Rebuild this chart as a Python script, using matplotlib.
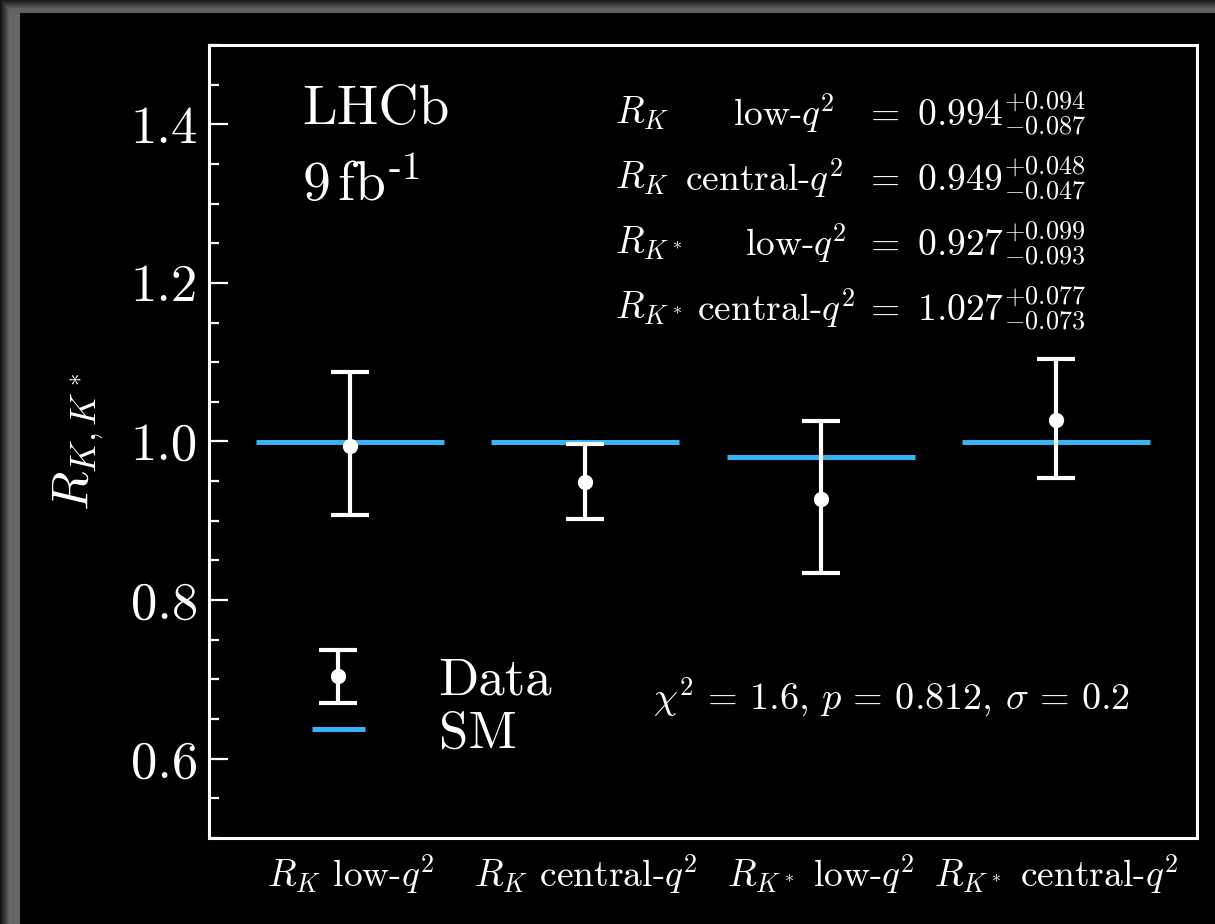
import numpy as np
import matplotlib
matplotlib.use("Agg")
import matplotlib.pyplot as plt
from matplotlib.ticker import MultipleLocator, FormatStrFormatter

plt.rcParams['font.family'] = 'serif'
plt.rcParams['font.serif'] = ['cmr10']
plt.rcParams['mathtext.fontset'] = 'cm'
plt.rcParams['axes.unicode_minus'] = False
plt.rcParams['axes.formatter.use_mathtext'] = True

# mesures et predictions
categories = [r'$R_K$ low-$q^2$', r'$R_K$ central-$q^2$',
              r'$R_{K^*}$ low-$q^2$', r'$R_{K^*}$ central-$q^2$']
valeurs = [0.994, 0.949, 0.927, 1.027]
err_haut = [0.094, 0.048, 0.099, 0.077]
err_bas = [0.087, 0.047, 0.093, 0.073]
sm = [1.0, 1.0, 0.98, 1.0]

noms_ratio = [r'$R_K$', r'$R_K$', r'$R_{K^*}$', r'$R_{K^*}$']
noms_bin = [r'low-$q^2$', r'central-$q^2$', r'low-$q^2$', r'central-$q^2$']
chi2, pval, sigma = 1.6, 0.812, 0.2

BLEU = '#36b4f4'
W, H = 1215, 924

fig = plt.figure(figsize=(W / 100, H / 100), dpi=100, facecolor='black')

# cadre gris en haut et a gauche
cadre = np.zeros((H, W, 3))
xs = np.arange(W)
ys = np.arange(H)
gauche = np.where(xs < 20, 0.40 * np.minimum(1, (xs + 2) / 11), 0)
haut = np.where(ys < 13, 0.38 * np.minimum(1, (ys + 3) / 11), 0)
g2 = np.broadcast_to(gauche[None, :], (H, W))
h2 = np.broadcast_to(haut[:, None], (H, W))
ombre = np.where((g2 > 0) & (h2 > 0), np.minimum(g2, h2), np.maximum(g2, h2))
cadre[:] = ombre[:, :, None]
fig.figimage(cadre, origin='upper', zorder=-5)

ax = fig.add_axes([209 / W, 1 - 838 / H, 988 / W, 793 / H])
ax.set_facecolor('black')

x = np.arange(len(categories))
for i in x:
    ax.hlines(sm[i], i - 0.4, i + 0.4, color=BLEU, lw=3.6, zorder=2,
              label='SM' if i == 0 else None)
ax.errorbar(x, valeurs, yerr=[err_bas, err_haut], fmt='o', color='white',
            ms=10, elinewidth=3, capsize=14, capthick=3, zorder=3, label='Data')

ax.set_xlim(-0.6, 3.6)
ax.set_ylim(0.5, 1.5)
ax.set_xticks(x)
ax.set_xticklabels(categories, fontsize=27, color='white')
ax.tick_params(axis='x', length=0, pad=10)
ax.yaxis.set_major_locator(MultipleLocator(0.2))
ax.yaxis.set_minor_locator(MultipleLocator(0.05))
ax.yaxis.set_major_formatter(FormatStrFormatter('%.1f'))
ax.tick_params(axis='y', which='both', direction='in', left=True, right=False,
               colors='white', labelsize=38, width=1.6)
ax.tick_params(axis='y', which='major', length=14, pad=8)
ax.tick_params(axis='y', which='minor', length=7)
for s in ax.spines.values():
    s.set_color('white')
    s.set_linewidth(2.2)

ax.set_ylabel(r'$R_{K,K^*}$', fontsize=37, color='white', labelpad=18)

ax.text(0.094, 0.918, 'LHCb', transform=ax.transAxes, fontsize=40,
        color='white', va='center', ha='left')
ax.text(0.094, 0.823, r'9$\,$fb$^{\text{-1}}$', transform=ax.transAxes,
        fontsize=40, color='white', va='center', ha='left')

# bloc des resultats
lignes_y = [0.914, 0.832, 0.750, 0.668]
debut_bin = [733, 685, 745, 697]
for k in range(4):
    ax.text((615 - 209) / 988, lignes_y[k], noms_ratio[k], transform=ax.transAxes,
            fontsize=27, color='white', va='center', ha='left')
    ax.text((debut_bin[k] - 209) / 988, lignes_y[k], noms_bin[k],
            transform=ax.transAxes, fontsize=27, color='white',
            va='center', ha='left')
    txt = r'$=\ %.3f^{+%.3f}_{-%.3f}$' % (valeurs[k], err_haut[k], err_bas[k])
    ax.text((864 - 209) / 988, lignes_y[k], txt, transform=ax.transAxes,
            fontsize=27, color='white', va='center', ha='left')

ax.text(0.449, 0.178,
        r'$\chi^2 \,=\, %.1f$, $p \,=\, %.3f$, $\sigma \,=\, %.1f$' % (chi2, pval, sigma),
        transform=ax.transAxes, fontsize=27.5, color='white',
        va='center', ha='left')

handles, labels = ax.get_legend_handles_labels()
ordre = [labels.index('Data'), labels.index('SM')]
leg = ax.legend([handles[i] for i in ordre], [labels[i] for i in ordre],
                loc='upper left', bbox_to_anchor=((312 - 209) / 988, (838 - 658) / 793),
                frameon=False, fontsize=38, handlelength=1.0,
                handletextpad=1.4, labelspacing=0.1, borderpad=0,
                borderaxespad=0)
for t in leg.get_texts():
    t.set_color('white')

fig.savefig('out.png', dpi=100, facecolor='black')
